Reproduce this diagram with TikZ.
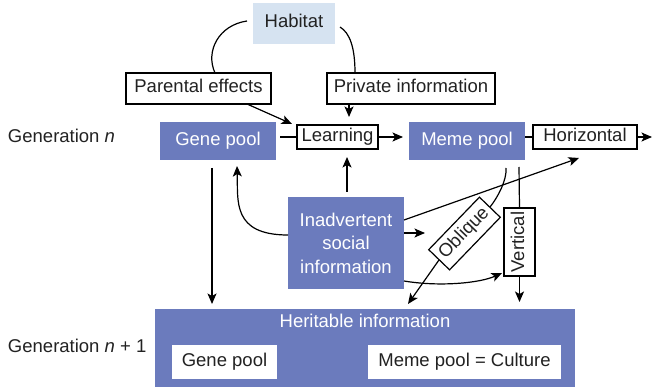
\documentclass[tikz,border=0pt]{standalone}
\usepackage{fontspec}
\setmainfont{Liberation Sans}
\usetikzlibrary{arrows.meta}
\definecolor{boxblue}{HTML}{6B7BBD}
\definecolor{habblue}{HTML}{D6E3F1}
\definecolor{txt}{HTML}{222222}
\begin{document}
\begin{tikzpicture}[x=1pt,y=1pt,
  every node/.style={font=\fontsize{18.5}{23.5}\selectfont, inner sep=0pt, outer sep=0pt, text=txt},
  oneline/.style={text height=13pt, text depth=4pt},
  wbox/.style={oneline, draw=black, line width=1.2pt, fill=white},
  bbox/.style={fill=boxblue, text=white},
  plainbox/.style={oneline, fill=white},
  conn/.style={line width=1.2pt, draw=black},
  arr/.style={conn, -{Stealth[length=10.5pt,width=9pt,inset=2.5pt]}}
]
\useasboundingbox (0,0) rectangle (652,-387);

% nodes
\node[oneline, fill=habblue, minimum width=82pt, minimum height=41pt] (habitat) at (294,-23.5) {Habitat};
\node[wbox, minimum width=145pt, minimum height=31pt] (parental) at (198.5,-88.5) {Parental effects};
\node[wbox, minimum width=168pt, minimum height=31pt] (private) at (411,-88.5) {Private information};
\node[bbox, oneline, minimum width=116pt, minimum height=38pt] (genepool) at (218,-141) {Gene pool};
\node[wbox, minimum width=81pt, minimum height=24pt] (learning) at (337.5,-137) {Learning};
\node[bbox, oneline, minimum width=116pt, minimum height=38pt] (memepool) at (467,-141) {Meme pool};
\node[wbox, minimum width=104pt, minimum height=24pt] (horizontal) at (585,-137) {Horizontal};
\node[bbox, align=center, minimum width=116pt, minimum height=92pt] (inadvertent) at (346,-243) {Inadvertent\\social\\information};
\node[wbox, rotate=46, minimum width=73pt, minimum height=29pt] (oblique) at (464.5,-233.5) {Oblique};
\node[wbox, rotate=90, minimum width=68pt, minimum height=31pt] (vertical) at (519.5,-242) {Vertical};
\node[bbox, minimum width=420pt, minimum height=78pt] (herit) at (365,-348) {};
\node[oneline, text=white] (heritlabel) at (365,-323) {Heritable information};
\node[plainbox, minimum width=105pt, minimum height=34pt] (hgene) at (224.5,-362) {Gene pool};
\node[plainbox, minimum width=193pt, minimum height=34pt] (hmeme) at (464.5,-362) {Meme pool = Culture};
\node[oneline, anchor=west] (gen1) at (8,-138) {Generation \textit{n}};
\node[oneline, anchor=west] (gen2) at (8,-348) {Generation \textit{n} + 1};

% connectors
\draw[conn] ([shift={(-6,2.5)}]habitat.west) .. controls +(-28,-4) and +(-10,22) .. ([xshift=16.5]parental.north);
\draw[conn] ([shift={(5,-3.5)}]habitat.east) .. controls +(10,-6) and +(0,25) .. ([xshift=-56]private.north);
\draw[arr] ([xshift=48.5]parental.south) -- ([shift={(-5,1)}]learning.north west);
\draw[arr] ([xshift=-62]private.south) -- ([shift={(11.5,8)}]learning.north);
\draw[conn] ([xshift=4]genepool.east |- learning.west) -- (learning.west);
\draw[arr] (learning.east) -- ([xshift=-6]memepool.west |- learning.east);
\draw[conn] (memepool.east |- horizontal.west) -- (horizontal.west);
\draw[arr] (horizontal.east) -- ++(15,0);
\draw[arr] ([shift={(-6,-8)}]genepool.south) -- ([shift={(-6,5)}]genepool.south |- herit.north);
\draw[arr] ([yshift=8]inadvertent.west) .. controls +(-56,0) and +(1,-35) .. ([shift={(19,-6)}]genepool.south);
\draw[arr] ([shift={(1,5)}]inadvertent.north) -- ([shift={(1,-8)}]inadvertent.north |- learning.south);
\draw[arr] ([yshift=10]inadvertent.east) -- ++(21,0);
\draw[arr] ([yshift=23]inadvertent.east) -- ([shift={(-6,-9)}]horizontal.south);
\draw[arr] ([yshift=-38]inadvertent.east) .. controls +(36,-6) and +(-22,-10) .. ([shift={(-17.5,-31)}]vertical.center);
\draw[conn] ([shift={(52,-7)}]memepool.south) -- ([yshift=34]vertical.center);
\draw[arr] ([yshift=-34]vertical.center) -- ([shift={(154.5,7)}]herit.north);
\draw[conn] ([shift={(39,-8)}]memepool.south) .. controls +(1,-12) and +(8,10) .. (oblique.east);
\draw[arr] (oblique.west) -- ([shift={(43,5)}]herit.north);
\end{tikzpicture}
\end{document}
